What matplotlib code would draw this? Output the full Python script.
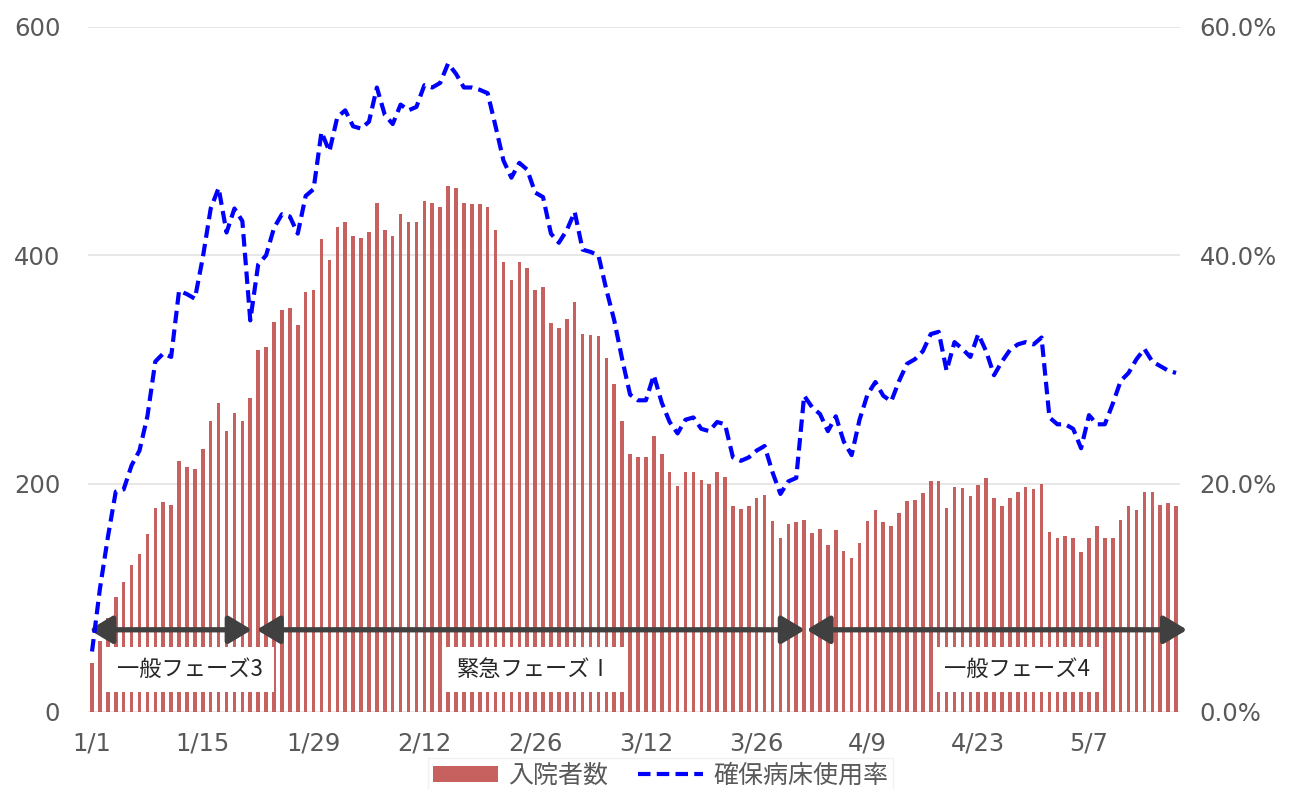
import numpy as np
import pandas as pd
import matplotlib
matplotlib.use("Agg")
import matplotlib.pyplot as plt
from matplotlib.ticker import FuncFormatter

plt.rcParams['font.family'] = ['DejaVu Sans', 'Noto Sans CJK JP']

# daily data 2021/1/1 - 5/18
dates = pd.date_range('2021-01-01', '2021-05-18', freq='D')

inpatients = [
    43, 62, 82, 101, 114, 129, 138, 156, 179, 184, 181, 220, 215, 213, 230, 255, 271, 246, 262, 255,
    275, 317, 320, 342, 352, 354, 339, 368, 370, 414, 396, 425, 429, 417, 415, 420, 446, 422, 417, 436,
    429, 429, 448, 446, 442, 461, 459, 446, 445, 445, 442, 422, 394, 378, 394, 389, 370, 372, 341, 336,
    344, 359, 331, 330, 329, 310, 287, 255, 226, 223, 223, 242, 226, 210, 198, 210, 210, 203, 200, 210,
    206, 180, 178, 180, 187, 190, 167, 152, 165, 166, 168, 157, 160, 146, 159, 141, 135, 148, 167, 177,
    166, 163, 174, 185, 186, 192, 202, 202, 179, 197, 196, 189, 199, 205, 187, 180, 187, 193, 197, 195,
    200, 158, 152, 154, 152, 140, 152, 163, 152, 152, 168, 180, 177, 193, 193, 181, 183, 180,
]

bed_rate = [
    5.3, 10.8, 15.3, 19.3, 19.5, 21.6, 22.9, 25.9, 30.7, 31.4, 31.1, 36.9, 36.6, 36.2, 39.8, 44.1, 45.9, 42.0, 44.1, 43.0,
    34.3, 39.2, 40.0, 42.4, 43.6, 43.4, 41.9, 45.2, 45.8, 50.8, 49.1, 52.1, 52.7, 51.3, 51.1, 51.7, 54.7, 52.3, 51.5, 53.2,
    52.7, 53.0, 54.9, 54.7, 55.1, 56.8, 55.9, 54.7, 54.7, 54.5, 54.2, 51.3, 48.3, 46.8, 48.1, 47.5, 45.5, 45.1, 41.9, 41.1,
    42.2, 43.8, 40.5, 40.3, 40.0, 37.0, 34.3, 30.9, 27.8, 27.3, 27.3, 29.5, 27.1, 25.4, 24.4, 25.6, 25.8, 24.8, 24.6, 25.4,
    25.2, 22.3, 22.0, 22.3, 22.9, 23.3, 21.0, 19.1, 20.2, 20.5, 27.7, 26.7, 26.1, 24.6, 25.9, 23.7, 22.5, 25.6, 27.8, 28.9,
    27.7, 27.2, 29.0, 30.5, 30.9, 31.6, 33.1, 33.3, 29.9, 32.4, 31.8, 31.1, 33.1, 31.6, 29.5, 30.7, 31.7, 32.2, 32.4, 32.2,
    32.8, 25.8, 25.2, 25.2, 24.8, 23.1, 26.0, 25.2, 25.2, 27.0, 29.0, 29.7, 30.9, 31.8, 30.7, 30.3, 29.9, 29.7,
]

tick_labels = ['1/1', '1/15', '1/29', '2/12', '2/26', '3/12', '3/26', '4/9', '4/23', '5/7']

# phases: (label, start index, end index)
phases = [
    ('一般フェーズ3', -0.35, 20.2),
    ('緊急フェーズⅠ', 20.8, 90.1),
    ('一般フェーズ4', 90.3, 138.4),
]
phase_label_x = [12.4, 56.0, 116.9]

x = np.arange(len(dates))
grey = '#595959'

fig = plt.figure(figsize=(12.95, 7.89), dpi=100)
ax = fig.add_axes([0.068, 0.0976, 0.8432, 0.8682])
ax2 = ax.twinx()

bars = ax.bar(x, inpatients, width=0.45, color='#C0504D', alpha=0.9, label='入院者数', zorder=2)
line, = ax2.plot(x, bed_rate, color='#0000FF', lw=3, ls=(0, (3.0, 1.5)), label='確保病床使用率')

ax.set_xlim(-0.5, len(dates) - 0.5)
ax.set_ylim(0, 600)
ax2.set_ylim(0, 60)
ax.set_yticks([0, 200, 400, 600])
ax2.set_yticks([0, 20, 40, 60])
ax2.yaxis.set_major_formatter(FuncFormatter(lambda v, p: f'{v:.1f}%'))
ax.set_xticks(np.arange(0, len(dates), 14))
ax.set_xticklabels(tick_labels)

ax.grid(axis='y', color='#E3E3E3', lw=1.2, zorder=0)
ax.set_axisbelow(True)
for a in (ax, ax2):
    for s in a.spines.values():
        s.set_visible(False)
    a.tick_params(length=0, colors=grey, labelsize=17.5)
ax.tick_params(axis='y', pad=20)
ax2.tick_params(axis='y', pad=14)
ax.tick_params(axis='x', pad=14)

for (name, x0, x1), lx in zip(phases, phase_label_x):
    ax.annotate('', xy=(x1, 72), xytext=(x0, 72), annotation_clip=False,
                arrowprops=dict(arrowstyle='<|-|>,head_length=0.7,head_width=0.42',
                                color='#404040', lw=3.8, mutation_scale=20,
                                shrinkA=0, shrinkB=0), zorder=4)
    ax.text(lx, 37, name, ha='center', va='center', fontsize=16, color='#262626',
            family=['Noto Sans CJK JP', 'DejaVu Sans'], zorder=5,
            bbox=dict(boxstyle='square,pad=0.5', facecolor='white', edgecolor='none'))

leg = fig.legend([bars, line], ['入院者数', '確保病床使用率'], loc='center',
                 bbox_to_anchor=(0.51, 0.017), ncol=2, frameon=True, fancybox=False,
                 edgecolor='#EEEEEE', handlelength=2.6, handleheight=0.6,
                 columnspacing=1.2, handletextpad=0.4, borderpad=0.2,
                 prop={'family': ['Noto Sans CJK JP', 'DejaVu Sans'], 'size': 18})
for t in leg.get_texts():
    t.set_color(grey)

fig.savefig('out.png', dpi=100)
